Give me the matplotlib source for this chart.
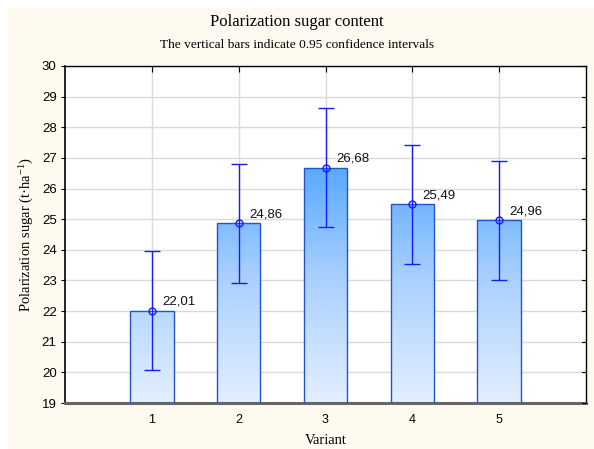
import matplotlib
matplotlib.use("Agg")
import matplotlib.pyplot as plt
import numpy as np
from matplotlib.patches import Rectangle
from matplotlib.colors import LinearSegmentedColormap

variants = [1, 2, 3, 4, 5]
means = [22.01, 24.86, 26.68, 25.49, 24.96]
ci_half = [1.94, 1.94, 1.94, 1.94, 1.94]
labels = ["22,01", "24,86", "26,68", "25,49", "24,96"]

plt.rcParams["mathtext.fontset"] = "custom"
plt.rcParams["mathtext.rm"] = "Liberation Serif"
plt.rcParams["mathtext.it"] = "Liberation Serif:italic"

fig = plt.figure(figsize=(5.94, 4.49), dpi=100)
fig.patch.set_facecolor("white")
fig.patches.append(Rectangle((8/594, 0), 1 - 8/594, 1 - 8/449, transform=fig.transFigure,
                             facecolor="#FEFAF0", edgecolor="none", zorder=-10))

ax = fig.add_axes([65/594, 46/449, 521/594, 337/449])
ax.set_facecolor("white")
ax.set_xlim(0, 6)
ax.set_ylim(19, 30)
ax.set_yticks(range(19, 31))
ax.set_xticks(variants)
ax.grid(True, color="#DADADA", lw=1.0, zorder=0)
ax.set_axisbelow(True)

grad = np.linspace(0, 1, 256).reshape(-1, 1)
cmap = LinearSegmentedColormap.from_list("g", ["#E2EFFF", "#A9D0FF", "#4DA3FF"])
w = 0.5
for x, m in zip(variants, means):
    bar = ax.bar(x, m - 19, bottom=19, width=w, facecolor="none",
                 edgecolor="#2255CC", lw=1.0, zorder=3)[0]
    im = ax.imshow(grad, extent=(x - w/2, x + w/2, 19, 27.2), origin="lower",
                   cmap=cmap, aspect="auto", zorder=2)
    im.set_clip_path(bar)

ax.errorbar(variants, means, yerr=ci_half, fmt="o", color="#1A1AFF", mfc="none",
            mec="#1A1AFF", ms=5, mew=1.0, ecolor="#1A1AFF", elinewidth=1.0,
            capsize=6, capthick=1.0, zorder=5)
for x, m, t in zip(variants, means, labels):
    ax.text(x + 0.12, m + 0.1, t, fontsize=9.5, family="Liberation Sans",
            color="#111111", ha="left", va="bottom", zorder=6)

ax.set_aspect("auto")
ax.tick_params(axis="x", direction="in", top=True, length=4, labelsize=9, pad=8)
ax.tick_params(axis="y", direction="out", right=False, length=3, labelsize=9.5, pad=3)
for lab in ax.get_xticklabels() + ax.get_yticklabels():
    lab.set_family("Liberation Sans")
for yv in range(19, 31):
    ax.plot([6 - 0.05, 6], [yv, yv], color="black", lw=0.8, zorder=6, clip_on=False)

for s in ["top", "right"]:
    ax.spines[s].set_color("black")
    ax.spines[s].set_linewidth(1.0)
ax.spines["left"].set_color("black")
ax.spines["left"].set_linewidth(1.2)
ax.spines["bottom"].set_color("#666666")
ax.spines["bottom"].set_linewidth(2.2)

fig.text(0.5, 1 - 22/449, "Polarization sugar content", ha="center", va="center",
         family="Liberation Serif", fontsize=12)
fig.text(0.5, 1 - 45/449, "The vertical bars indicate 0.95 confidence intervals",
         ha="center", va="center", family="Liberation Serif", fontsize=9.6)
ax.set_xlabel("Variant", family="Liberation Serif", fontsize=10.5, labelpad=6)
ax.set_ylabel("Polarization sugar (t·ha$^{\\mathrm{-1}}$)", family="Liberation Serif",
              fontsize=10.5, labelpad=4)

fig.savefig("out.png", dpi=100, facecolor=fig.get_facecolor())
